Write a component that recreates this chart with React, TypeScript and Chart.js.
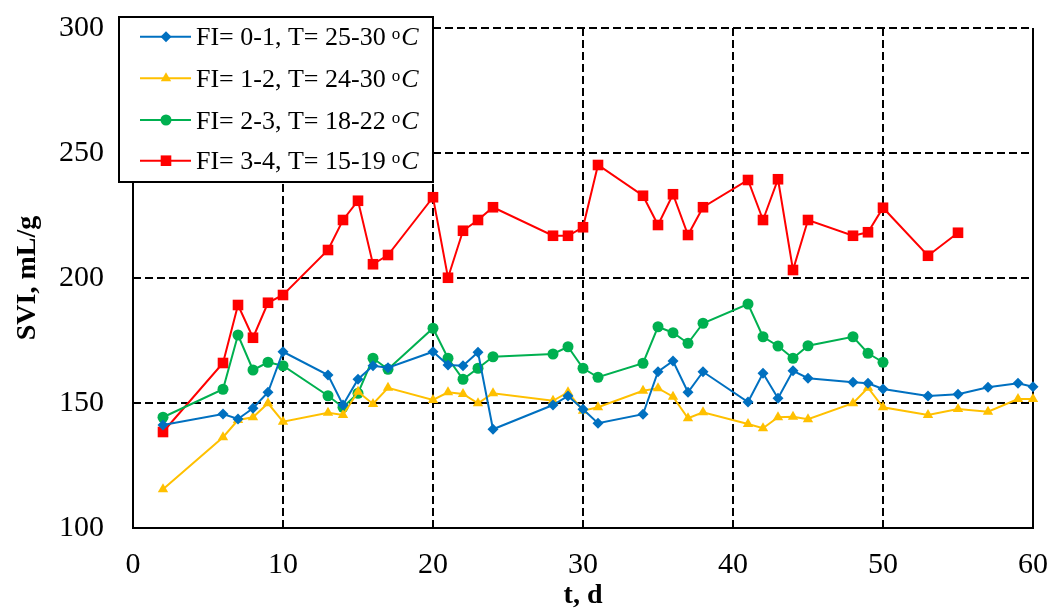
import React, { useEffect, useRef } from "react";
import { Chart, registerables } from "chart.js";

Chart.register(...registerables);

// ---------- data ----------
const blueDays = [2, 6, 7, 8, 9, 10, 13, 14, 15, 16, 17, 20, 21, 22, 23, 24, 28, 29, 30, 31, 34, 35, 36, 37, 38, 41, 42, 43, 44, 45, 48, 49, 50, 53, 55, 57, 59, 60];
const blueSVI = [141.2, 145.6, 143.6, 147.9, 154.3, 170.5, 161.2, 149.2, 159.5, 164.9, 164.1, 170.5, 165.2, 164.9, 170.3, 139.5, 149.2, 152.8, 147.5, 141.9, 145.5, 162.5, 166.8, 154.3, 162.5, 150.4, 161.9, 151.9, 162.9, 159.9, 158.3, 157.9, 155.6, 152.8, 153.5, 156.3, 157.9, 156.5];

const yellowDays = [2, 6, 7, 8, 9, 10, 13, 14, 15, 16, 17, 20, 21, 22, 23, 24, 28, 29, 30, 31, 34, 35, 36, 37, 38, 41, 42, 43, 44, 45, 48, 49, 50, 53, 55, 57, 59, 60];
const yellowSVI = [115.5, 136.3, 143.2, 144.3, 149.9, 142.5, 146.1, 145.2, 154.5, 149.6, 156.1, 151.2, 154.3, 153.6, 149.9, 153.9, 150.9, 154.3, 146.9, 148.3, 154.9, 155.9, 152.5, 143.9, 146.3, 141.6, 139.9, 144.3, 144.5, 143.5, 149.9, 156.1, 148.3, 145.2, 147.6, 146.5, 151.6, 151.6];

const greenDays = [2, 6, 7, 8, 9, 10, 13, 14, 15, 16, 17, 20, 21, 22, 23, 24, 28, 29, 30, 31, 34, 35, 36, 37, 38, 41, 42, 43, 44, 45, 48, 49, 50];
const greenSVI = [144.3, 155.5, 177.2, 163.2, 166.3, 164.9, 152.9, 148.3, 153.9, 167.9, 163.5, 179.9, 167.9, 159.5, 163.9, 168.5, 169.6, 172.5, 163.9, 160.3, 165.9, 180.5, 178.1, 173.9, 181.9, 189.6, 176.5, 172.8, 167.9, 172.9, 176.5, 169.9, 166.3];

const redDays = [2, 6, 7, 8, 9, 10, 13, 14, 15, 16, 17, 20, 21, 22, 23, 24, 28, 29, 30, 31, 34, 35, 36, 37, 38, 41, 42, 43, 44, 45, 48, 49, 50, 53, 55];
const redSVI = [138.4, 166, 189.2, 176.1, 190.1, 193.2, 211.2, 223.2, 230.9, 205.5, 209.2, 232.3, 200.1, 218.9, 223.2, 228.3, 216.9, 216.9, 220.3, 245.2, 232.9, 221.2, 233.5, 217.2, 228.3, 239.2, 223.2, 239.5, 203.2, 223.2, 216.9, 218.3, 228.1, 208.9, 218.1];

const seriesLabels = ["FI= 0-1, T= 25-30", "FI= 1-2, T= 24-30", "FI= 2-3, T= 18-22", "FI= 3-4, T= 15-19"];
const xTicks = [0, 10, 20, 30, 40, 50, 60];
const yTicks = [100, 150, 200, 250, 300];

// ---------- styles ----------
const COLORS = ["#0070C0", "#FFC000", "#00B050", "#FF0000"];
const STYLES = ["rectRot", "triangle", "circle", "rect"];
const RADII = [5.5, 6, 5.5, 7.5];
const SERIF = "'Liberation Serif', 'Times New Roman', serif";

function toPoints(xs: number[], ys: number[]) {
  return xs.map((x, i) => ({ x, y: ys[i] }));
}

function drawMarker(ctx: CanvasRenderingContext2D, style: string, x: number, y: number, r: number) {
  ctx.beginPath();
  if (style === "rectRot") {
    ctx.moveTo(x, y - r);
    ctx.lineTo(x + r, y);
    ctx.lineTo(x, y + r);
    ctx.lineTo(x - r, y);
    ctx.closePath();
  } else if (style === "triangle") {
    ctx.moveTo(x, y - r);
    ctx.lineTo(x + r * Math.sin(Math.PI / 3), y + r * 0.5);
    ctx.lineTo(x - r * Math.sin(Math.PI / 3), y + r * 0.5);
    ctx.closePath();
  } else if (style === "circle") {
    ctx.arc(x, y, r, 0, Math.PI * 2);
  } else {
    const s = r * Math.SQRT1_2;
    ctx.rect(x - s, y - s, 2 * s, 2 * s);
  }
  ctx.fill();
}

const framePlugin = {
  id: "frame",
  beforeDatasetsDraw(chart: any) {
    const { ctx, chartArea } = chart;
    const { left, right, top, bottom } = chartArea;
    ctx.save();
    ctx.strokeStyle = "#000";
    ctx.lineWidth = 2;
    ctx.setLineDash([]);
    ctx.beginPath();
    ctx.moveTo(left, top);
    ctx.lineTo(left, bottom);
    ctx.lineTo(right, bottom);
    ctx.lineTo(right, top);
    ctx.stroke();
    ctx.restore();
  },
};

const legendPlugin = {
  id: "customLegend",
  afterDraw(chart: any) {
    const ctx: CanvasRenderingContext2D = chart.ctx;
    ctx.save();
    const bx = 119, by = 17, bw = 314, bh = 165;
    ctx.fillStyle = "#fff";
    ctx.fillRect(bx, by, bw, bh);
    ctx.strokeStyle = "#000";
    ctx.lineWidth = 2;
    ctx.setLineDash([]);
    ctx.strokeRect(bx, by, bw, bh);
    const rows = [36.7, 78.3, 120, 160.7];
    seriesLabels.forEach((label, i) => {
      const cy = rows[i];
      ctx.strokeStyle = COLORS[i];
      ctx.lineWidth = 2;
      ctx.beginPath();
      ctx.moveTo(140, cy);
      ctx.lineTo(191, cy);
      ctx.stroke();
      ctx.fillStyle = COLORS[i];
      drawMarker(ctx, STYLES[i], 166, cy, RADII[i]);
      ctx.fillStyle = "#000";
      ctx.textBaseline = "alphabetic";
      ctx.textAlign = "left";
      const base = cy + 8.5;
      ctx.font = `26px ${SERIF}`;
      ctx.fillText(label, 196, base);
      const w = ctx.measureText(label).width;
      ctx.font = `17px ${SERIF}`;
      const ox = 196 + w + 6;
      ctx.fillText("o", ox, base - 6);
      const ow = ctx.measureText("o").width;
      ctx.font = `italic 26px ${SERIF}`;
      ctx.fillText("C", ox + ow + 1, base);
    });
    ctx.restore();
  },
};

export default function App() {
  const canvasRef = useRef<HTMLCanvasElement | null>(null);

  useEffect(() => {
    if (!canvasRef.current) return;
    const sets = [
      toPoints(blueDays, blueSVI),
      toPoints(yellowDays, yellowSVI),
      toPoints(greenDays, greenSVI),
      toPoints(redDays, redSVI),
    ];
    const chart = new Chart(canvasRef.current, {
      type: "line",
      data: {
        datasets: sets.map((d, i) => ({
          label: seriesLabels[i],
          data: d,
          borderColor: COLORS[i],
          backgroundColor: COLORS[i],
          borderWidth: 2,
          pointStyle: STYLES[i] as any,
          pointRadius: RADII[i],
          pointBorderWidth: 0,
          pointBackgroundColor: COLORS[i],
          tension: 0,
          clip: false as any,
        })),
      },
      options: {
        responsive: false,
        animation: false,
        layout: { padding: { left: 0, right: 20, top: 28, bottom: 0 } },
        plugins: { legend: { display: false }, tooltip: { enabled: false } },
        scales: {
          x: {
            type: "linear",
            min: 0,
            max: 60,
            afterBuildTicks: (scale: any) => {
              scale.ticks = xTicks.map((v) => ({ value: v }));
            },
            afterFit: (scale: any) => {
              scale.height = 80;
              scale.paddingLeft = 0;
              scale.paddingRight = 0;
            },
            ticks: {
              color: "#000",
              font: { family: SERIF, size: 30 },
              padding: 19,
              maxRotation: 0,
            },
            grid: { color: "#000", lineWidth: 2, drawTicks: false },
            border: { display: false, dash: [8, 4] },
            title: {
              display: true,
              text: "t, d",
              color: "#000",
              font: { family: SERIF, size: 28, weight: "bold", lineHeight: 1 },
              padding: { top: 0, bottom: -2 },
            },
          },
          y: {
            type: "linear",
            min: 100,
            max: 300,
            afterBuildTicks: (scale: any) => {
              scale.ticks = yTicks.map((v) => ({ value: v }));
            },
            afterFit: (scale: any) => {
              scale.width = 133;
              scale.paddingTop = 0;
              scale.paddingBottom = 0;
            },
            ticks: {
              color: "#000",
              font: { family: SERIF, size: 30 },
              padding: 29,
            },
            grid: { color: "#000", lineWidth: 2, drawTicks: false },
            border: { display: false, dash: [8, 4] },
            title: {
              display: true,
              text: "SVI, mL/g",
              color: "#000",
              font: { family: SERIF, size: 28, weight: "bold", lineHeight: 1 },
              padding: 14,
            },
          },
        },
      },
      plugins: [framePlugin, legendPlugin],
    } as any);
    return () => chart.destroy();
  }, []);

  return (
    <div style={{ position: "absolute", left: 0, top: 0, width: 1053, height: 608, background: "#fff" }}>
      <canvas ref={canvasRef} width={1053} height={608} style={{ display: "block" }} />
    </div>
  );
}
